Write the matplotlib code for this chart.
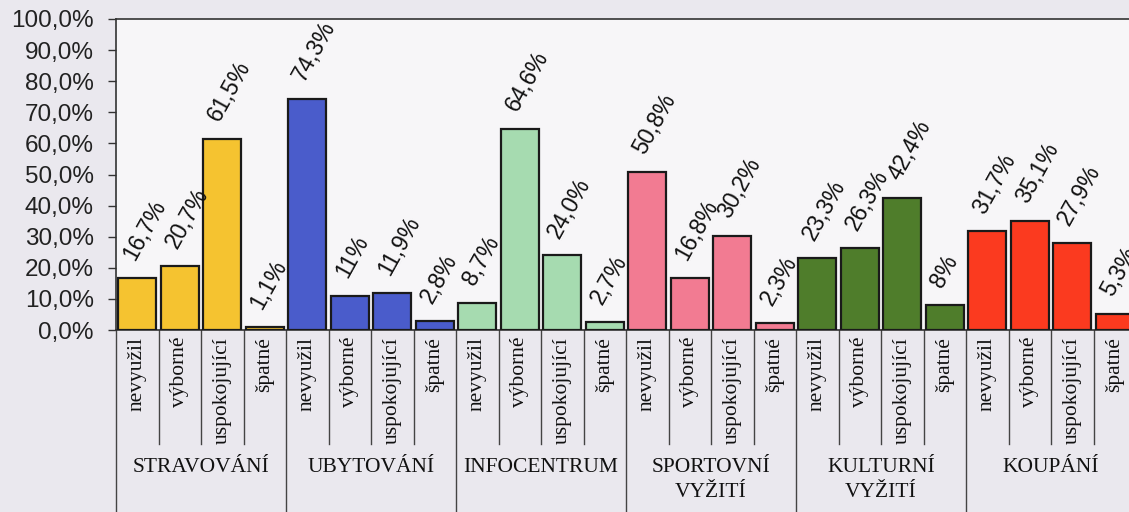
import numpy as np
import matplotlib
matplotlib.use("Agg")
import matplotlib.pyplot as plt
from matplotlib.transforms import blended_transform_factory

GROUPS = ["STRAVOVÁNÍ", "UBYTOVÁNÍ", "INFOCENTRUM", "SPORTOVNÍ\nVYŽITÍ",
          "KULTURNÍ\nVYŽITÍ", "KOUPÁNÍ"]
ANSWERS = ["nevyužil", "výborné", "uspokojující", "špatné"]
COLORS = ["#f5c330", "#4a5ccb", "#a6dbb0", "#f27b92", "#4f7d2b", "#fb3a1f"]

stravovani = [16.7, 20.7, 61.5, 1.1]
ubytovani = [74.3, 11.0, 11.9, 2.8]
infocentrum = [8.7, 64.6, 24.0, 2.7]
sport = [50.8, 16.8, 30.2, 2.3]
kultura = [23.3, 26.3, 42.4, 8.0]
koupani = [31.7, 35.1, 27.9, 5.3]
VALUES = [stravovani, ubytovani, infocentrum, sport, kultura, koupani]

VALUE_LABELS = ["16,7%", "20,7%", "61,5%", "1,1%",
                "74,3%", "11%", "11,9%", "2,8%",
                "8,7%", "64,6%", "24,0%", "2,7%",
                "50,8%", "16,8%", "30,2%", "2,3%",
                "23,3%", "26,3%", "42,4%", "8%",
                "31,7%", "35,1%", "27,9%", "5,3%"]
YTICKS = np.arange(0, 101, 10)

sans = "Liberation Sans"
serif = "Liberation Serif"

fig = plt.figure(figsize=(11.29, 5.12), dpi=100)
fig.patch.set_facecolor("#eae8ee")
ax = fig.add_axes([116 / 1129, 1 - 330 / 512, (1136 - 116) / 1129, 311 / 512])
ax.set_facecolor("#f7f6f8")

heights = [v for grp in VALUES for v in grp]
colors = [COLORS[g] for g in range(len(GROUPS)) for _ in ANSWERS]
x = np.arange(len(heights))
ax.bar(x, heights, width=0.9, color=colors, edgecolor="#1a1a1a", linewidth=1.6, zorder=3)

# rotated value labels above the bars
for xi, h, lab in zip(x, heights, VALUE_LABELS):
    ax.annotate(lab, (xi, h), xytext=(-6, 14), textcoords="offset points",
                rotation=61, rotation_mode="anchor", ha="left", va="center",
                fontsize=16.5, family=sans, color="#111111", annotation_clip=False)

ax.set_xlim(-0.5, len(heights) - 0.5)
ax.set_ylim(0, 100)
ax.set_yticks(YTICKS)
ax.set_yticklabels([f"{t:.1f}%".replace(".", ",") for t in YTICKS],
                   fontsize=17.5, family=sans, color="#222222")
ax.tick_params(axis="y", length=6, width=1, pad=10, color="#333333")
ax.set_xticks([])
ax.spines["right"].set_visible(False)
for side in ["left", "bottom", "top"]:
    ax.spines[side].set_color("#333333")
    ax.spines[side].set_linewidth(1.2)

# multi-level category axis below the plot
tr = blended_transform_factory(ax.transData, ax.transAxes)
n = len(ANSWERS)
for i in range(len(heights) + 1):
    bottom = -0.62 if i % n == 0 else -0.365
    ax.plot([i - 0.5, i - 0.5], [0, bottom], transform=tr, color="#444444",
            lw=1.0, clip_on=False)
for xi in x:
    ax.text(xi, -0.022, ANSWERS[xi % n], transform=tr, rotation=90,
            ha="center", va="top", fontsize=15.5, family=serif, color="#111111")
for g, name in enumerate(GROUPS):
    ax.text(g * n + (n - 1) / 2, -0.41, name, transform=tr, ha="center", va="top",
            fontsize=15.5, family=serif, color="#111111", linespacing=1.45)

fig.savefig("out.png", dpi=100, facecolor=fig.get_facecolor())
